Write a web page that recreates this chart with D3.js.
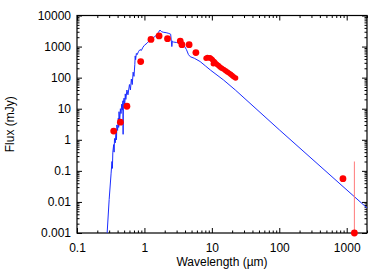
<!DOCTYPE html>
<html>
<head>
<meta charset="utf-8">
<script src="https://cdn.jsdelivr.net/npm/d3@7"></script>
<style>
  body { margin: 0; background: #fff; }
  svg { display: block; }
  text { font-family: "Liberation Sans", Arial, sans-serif; font-size: 12px; fill: #000; }
</style>
</head>
<body>
<script>
// model SED (wavelength in micron, flux in mJy)
const modelSed = [
  [0.28, 0.001], [0.30, 0.012], [0.32, 0.08], [0.33, 0.2], [0.335, 0.12],
  [0.34, 0.4], [0.35, 0.7], [0.355, 0.4], [0.36, 1.1], [0.37, 0.8],
  [0.38, 2], [0.385, 1.0], [0.39, 3], [0.40, 2], [0.41, 5], [0.415, 2.5],
  [0.42, 8], [0.43, 4], [0.44, 10], [0.45, 7], [0.46, 14], [0.47, 9],
  [0.48, 18], [0.483, 1.5], [0.487, 16], [0.50, 22], [0.51, 12], [0.52, 30],
  [0.53, 20], [0.55, 40], [0.57, 28], [0.60, 60], [0.62, 40], [0.64, 90],
  [0.66, 60], [0.68, 150], [0.70, 110], [0.72, 260], [0.73, 500], [0.74, 380],
  [0.76, 600], [0.78, 550], [0.82, 700], [0.86, 800], [0.90, 750], [0.95, 950],
  [1.0, 1100], [1.1, 1300], [1.22, 1650], [1.35, 1900], [1.5, 2300], [1.6, 2800],
  [1.7, 3400], [1.8, 3000], [1.9, 2900], [2.1, 2800], [2.3, 2650], [2.45, 2500],
  [2.55, 1000], [2.6, 1500], [2.7, 1400], [3.0, 1350], [3.4, 1300], [3.8, 1150],
  [4.2, 800], [4.5, 550], [4.8, 470], [5.5, 420], [6.7, 330], [8, 240],
  [9.5, 176], [14.9, 84], [22.3, 40], [100, 2.1], [2000, 0.0064]
];

// photometry
const photometry = [
  [0.35, 1.9], [0.44, 3.7], [0.55, 12], [0.88, 330], [1.25, 1700],
  [1.65, 2200], [2.2, 1800], [3.4, 1500], [3.6, 1150], [4.6, 1150],
  [5.8, 640], [880, 0.056], [1300, 0.001]
];

// mid-IR spectrum points
const irsPoints = [
  [8.2, 420], [8.6, 450], [9.0, 430], [9.4, 440], [9.8, 410], [10.2, 380],
  [10.5, 280], [10.8, 330], [11.2, 300], [11.8, 270], [12.5, 245], [13.2, 220],
  [14, 200], [15, 185], [16, 166], [17, 152], [18, 140], [19, 128],
  [20, 118], [21, 107], [22.5, 97]
];

// error bars: [wavelength, low, high]
const errorBars = [[880, 0.045, 0.07], [1300, 0.001, 0.2]];

const xMajor = [0.1, 1, 10, 100, 1000];
const xLabels = ["0.1", "1", "10", "100", "1000"];
const yMajor = [0.001, 0.01, 0.1, 1, 10, 100, 1000, 10000];
const yLabels = ["0.001", "0.01", "0.1", "1", "10", "100", "1000", "10000"];

let width = 390, height = 274;
let mLeft = 77, mRight = 367, mTop = 15.5, mBottom = 233;

let x = d3.scaleLog().domain([0.1, 2000]).range([mLeft, mRight]);
let y = d3.scaleLog().domain([0.001, 10000]).range([mBottom, mTop]);

let svg = d3.select("body").append("svg")
    .attr("width", width)
    .attr("height", height);

svg.append("clipPath").attr("id", "clip")
  .append("rect")
    .attr("x", mLeft).attr("y", mTop)
    .attr("width", mRight - mLeft).attr("height", mBottom - mTop);

// minor ticks = all log ticks that are not powers of ten
let isPow = d => Math.abs(Math.log10(d) - Math.round(Math.log10(d))) < 1e-9;
let xMinor = x.ticks().filter(d => !isPow(d));
let yMinor = y.ticks().filter(d => !isPow(d));

function drawAxis(axisFn, scale, tr, values, size, labels, pad) {
  let ax = axisFn(scale).tickValues(values).tickSize(-size).tickSizeOuter(0)
      .tickPadding(pad || 0)
      .tickFormat(labels ? (d, i) => labels[i] : "");
  let g = svg.append("g").attr("transform", tr).call(ax);
  g.select(".domain").remove();
  g.selectAll("line").attr("stroke", "#000");
  g.selectAll("text").style("font-size", "12px")
    .style("font-family", '"Liberation Sans", Arial, sans-serif');
  return g;
}

// bottom / top
drawAxis(d3.axisBottom, x, `translate(0,${mBottom})`, xMajor, 5, xLabels, 10);
drawAxis(d3.axisBottom, x, `translate(0,${mBottom})`, xMinor, 2.5);
drawAxis(d3.axisTop, x, `translate(0,${mTop})`, xMajor, 5);
drawAxis(d3.axisTop, x, `translate(0,${mTop})`, xMinor, 2.5);
// left / right
drawAxis(d3.axisLeft, y, `translate(${mLeft},0)`, yMajor, 5, yLabels, 6);
drawAxis(d3.axisLeft, y, `translate(${mLeft},0)`, yMinor, 2.5);
drawAxis(d3.axisRight, y, `translate(${mRight},0)`, yMajor, 5);
drawAxis(d3.axisRight, y, `translate(${mRight},0)`, yMinor, 2.5);

svg.append("rect")
    .attr("x", mLeft).attr("y", mTop)
    .attr("width", mRight - mLeft).attr("height", mBottom - mTop)
    .style("fill", "none")
    .style("stroke", "#000")
    .style("stroke-width", 1.2);

// model line
let line = d3.line().x(d => x(d[0])).y(d => y(d[1]));
svg.append("path")
    .datum(modelSed)
    .attr("clip-path", "url(#clip)")
    .attr("d", line)
    .style("fill", "none")
    .style("stroke", "#1a2cff")
    .style("stroke-width", 1);

// error bars
svg.selectAll(".err")
  .data(errorBars)
  .enter().append("line")
    .attr("x1", d => x(d[0])).attr("x2", d => x(d[0]))
    .attr("y1", d => y(d[1])).attr("y2", d => y(d[2]))
    .style("stroke", "#ff7a7a")
    .style("stroke-width", 1);

// data points
svg.selectAll(".pt")
  .data(photometry)
  .enter().append("circle")
    .attr("cx", d => x(d[0]))
    .attr("cy", d => y(d[1]))
    .attr("r", 3.4)
    .style("fill", "#ff0000");

svg.selectAll(".irs")
  .data(irsPoints)
  .enter().append("circle")
    .attr("cx", d => x(d[0]))
    .attr("cy", d => y(d[1]))
    .attr("r", 2.7)
    .style("fill", "#ff0000");

// axis titles
svg.append("text")
    .attr("x", (mLeft + mRight) / 2)
    .attr("y", 266)
    .attr("text-anchor", "middle")
    .text("Wavelength (\u00b5m)");

svg.append("text")
    .attr("transform", `translate(14,${(mTop + mBottom) / 2}) rotate(-90)`)
    .attr("text-anchor", "middle")
    .text("Flux (mJy)");
</script>
</body>
</html>
